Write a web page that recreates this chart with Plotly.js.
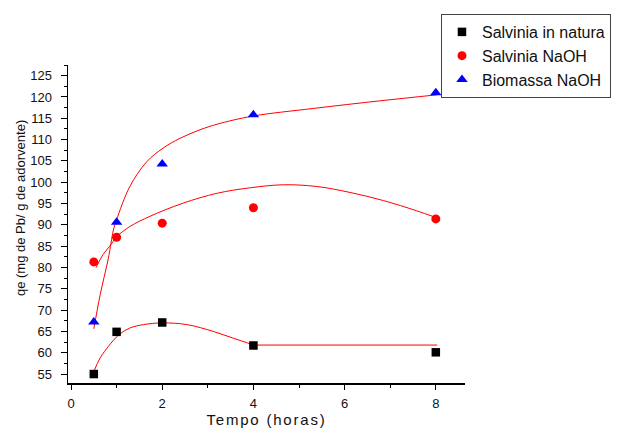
<!DOCTYPE html>
<html>
<head>
<meta charset="utf-8">
<script src="https://cdn.plot.ly/plotly-3.0.1.min.js"></script>
<style>
  html, body { margin: 0; padding: 0; background: #fff; }
  #chart { width: 618px; height: 428px; }
  .xtitle { letter-spacing: 1.8px; }
</style>
</head>
<body>
<div id="chart"></div>
<script>
// Series names
const seriesNames = ["Salvinia in natura", "Salvinia NaOH", "Biomassa NaOH"];

// Measured points (time in hours, qe in mg Pb / g)
const timeHours = [0.5, 1, 2, 4, 8];
const qeInNatura = [55.0, 64.9, 67.1, 61.7, 60.1];
const qeSalviniaNaOH = [81.3, 87.1, 90.4, 94.0, 91.4];
const qeBiomassaNaOH = [67.2, 90.6, 104.3, 115.8, 121.0];

// Fitted curves
const fitInNaturaX = [0.5, 0.64, 0.82, 0.93, 1.07, 1.29, 1.59, 2.01, 2.54, 3.12, 3.56, 4.01];
const fitInNaturaY = [55.6, 58.8, 61.5, 62.9, 64.4, 65.8, 66.6, 67.0, 66.6, 65.0, 63.4, 61.8];
const fitInNaturaFlatX = [4.01, 8.03];
const fitInNaturaFlatY = [61.8, 61.8];

const fitSalviniaX = [0.55, 0.7, 0.85, 1.0, 1.29, 1.73, 2.46, 3.2, 3.93, 4.66, 5.39, 6.12, 6.85, 7.58, 7.98];
const fitSalviniaY = [80.0, 83.0, 85.0, 87.2, 89.6, 92.0, 95.1, 97.4, 98.7, 99.4, 99.0, 97.6, 95.7, 93.3, 91.8];

const fitBiomassaX = [0.5, 0.64, 0.82, 0.93, 1.0, 1.29, 1.66, 2.02, 2.39, 2.83, 3.2, 3.98, 5.31, 6.78, 8.02];
const fitBiomassaY = [65.6, 73.6, 82.2, 88.8, 91.2, 99.0, 104.8, 108.0, 110.3, 112.3, 113.6, 115.5, 117.3, 119.1, 120.5];

// Axis tick labels
const xTickVals = [0, 2, 4, 6, 8];
const yTickVals = [55, 60, 65, 70, 75, 80, 85, 90, 95, 100, 105, 110, 115, 120, 125];

const axisTitleX = "Tempo (horas)";
const axisTitleY = "qe (mg de Pb/ g de adorvente)";

const fitLine = { color: "rgb(255,0,0)", width: 1, shape: "spline", smoothing: 1 };

const traces = [
  { x: fitInNaturaX, y: fitInNaturaY, mode: "lines", line: fitLine, showlegend: false, hoverinfo: "skip" },
  { x: fitInNaturaFlatX, y: fitInNaturaFlatY, mode: "lines", line: { color: "rgb(255,0,0)", width: 1 }, showlegend: false, hoverinfo: "skip" },
  { x: fitSalviniaX, y: fitSalviniaY, mode: "lines", line: fitLine, showlegend: false, hoverinfo: "skip" },
  { x: fitBiomassaX, y: fitBiomassaY, mode: "lines", line: fitLine, showlegend: false, hoverinfo: "skip" },
  { x: timeHours, y: qeInNatura, name: seriesNames[0], mode: "markers",
    marker: { symbol: "square", size: 8.5, color: "#000000" } },
  { x: timeHours, y: qeSalviniaNaOH, name: seriesNames[1], mode: "markers",
    marker: { symbol: "circle", size: 9, color: "#ff0000" } },
  { x: timeHours, y: qeBiomassaNaOH, name: seriesNames[2], mode: "markers",
    marker: { symbol: "triangle-up", size: 10, color: "#0000ff" } }
];

const tickFont = { family: "Liberation Sans, Arial, sans-serif", size: 13, color: "#111" };

const layout = {
  width: 618,
  height: 428,
  paper_bgcolor: "#ffffff",
  plot_bgcolor: "#ffffff",
  margin: { l: 68, r: 153, t: 65, b: 45, autoexpand: false },
  font: { family: "Liberation Sans, Arial, sans-serif", color: "#111" },
  showlegend: true,
  legend: {
    x: 0.9395, y: 1.1604, xanchor: "left", yanchor: "top",
    bgcolor: "#ffffff", bordercolor: "#444", borderwidth: 1,
    font: { family: "Liberation Sans, Arial, sans-serif", size: 16, color: "#111" }
  },
  xaxis: {
    range: [-0.066, 8.64],
    tickvals: xTickVals,
    ticktext: xTickVals.map(String),
    showgrid: false, zeroline: false,
    showline: true, linecolor: "#000", linewidth: 1.5,
    ticks: "outside", ticklen: 5, tickwidth: 1, tickcolor: "#000",
    minor: { dtick: 1, tick0: 0, ticks: "outside", ticklen: 3, tickwidth: 1, tickcolor: "#000", showgrid: false },
    tickfont: tickFont,
    ticklabelstandoff: 3,
    title: { text: axisTitleX, font: { family: "Liberation Sans, Arial, sans-serif", size: 15, color: "#111" }, standoff: 4 },
    automargin: false,
    fixedrange: true
  },
  yaxis: {
    range: [52.9, 127.5],
    tickvals: yTickVals,
    ticktext: yTickVals.map(String),
    showgrid: false, zeroline: false,
    showline: true, linecolor: "#000", linewidth: 1.5,
    ticks: "outside", ticklen: 6, tickwidth: 1, tickcolor: "#000",
    minor: { dtick: 2.5, tick0: 0, ticks: "outside", ticklen: 3, tickwidth: 1, tickcolor: "#000", showgrid: false },
    tickfont: tickFont,
    ticklabelstandoff: 6,
    automargin: false,
    fixedrange: true
  },
  annotations: [
    {
      text: axisTitleY, xref: "paper", yref: "paper",
      x: -0.1209, y: 0.55, xanchor: "center", yanchor: "middle",
      textangle: -90, showarrow: false,
      font: { family: "Liberation Sans, Arial, sans-serif", size: 13, color: "#111" }
    }
  ]
};

Plotly.newPlot("chart", traces, layout, { displayModeBar: false, staticPlot: true });
</script>
</body>
</html>
